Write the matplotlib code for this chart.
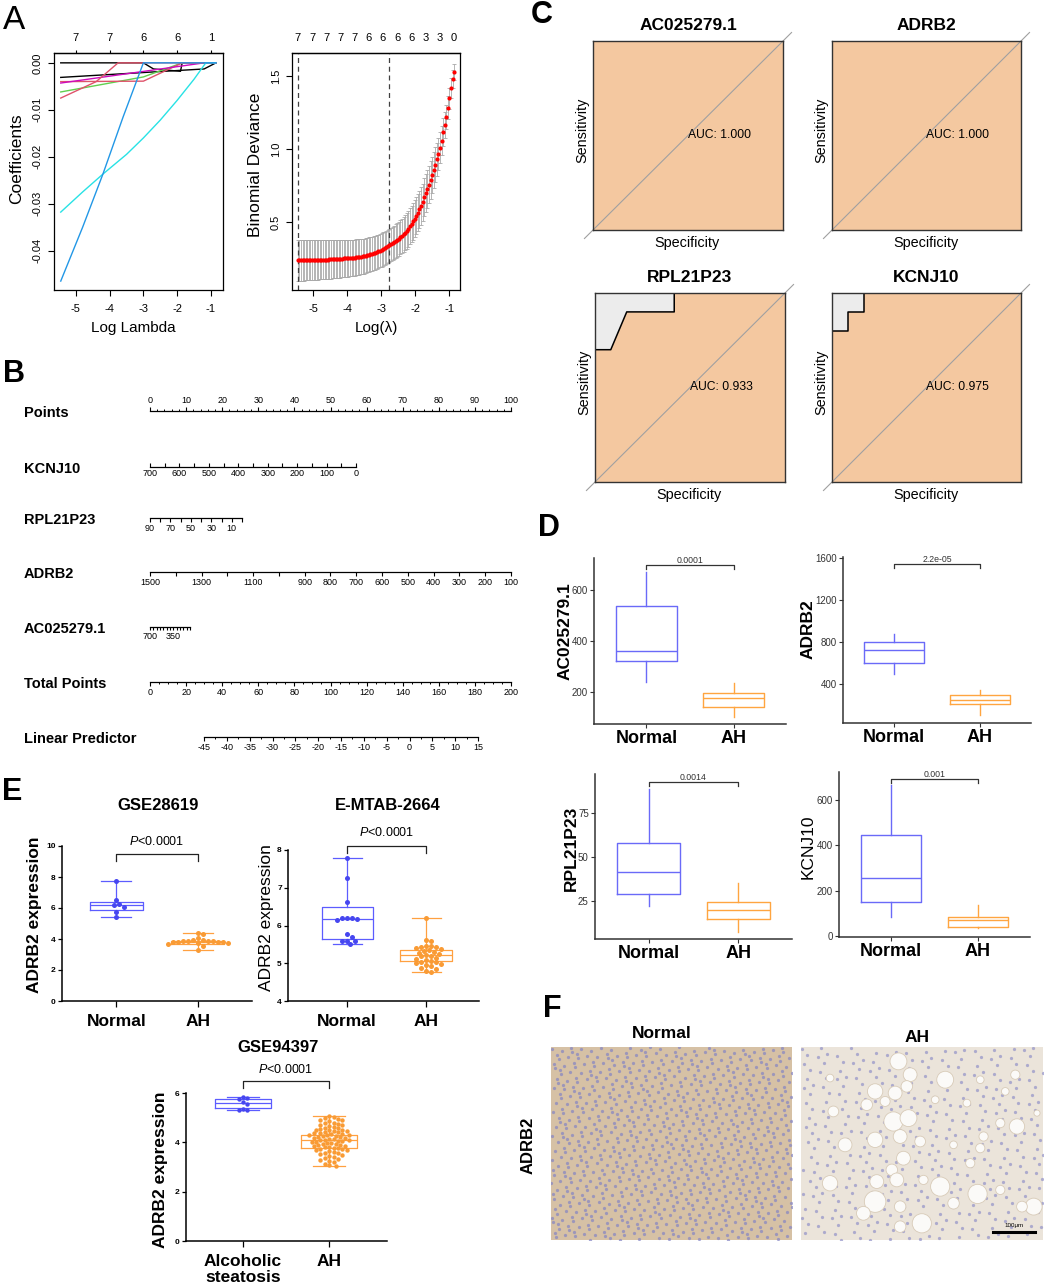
import numpy as np
import matplotlib
matplotlib.use("Agg")
import matplotlib.pyplot as plt
from matplotlib.patches import Circle

plt.rcParams['font.family'] = ['Liberation Sans', 'DejaVu Sans']
plt.rcParams['axes.unicode_minus'] = False
plt.rcParams['mathtext.fontset'] = 'custom'
plt.rcParams['mathtext.it'] = 'Liberation Sans:italic'
plt.rcParams['mathtext.rm'] = 'Liberation Sans'

# ---------------- A: lasso coefficient paths
coef_paths = [
    ('#000000', [-5.45, -3.0, -2.7, -1.9, -1.85, -0.85], [0.0, 0.0, -0.0013, -0.0018, 0.0, 0.0]),
    ('#000000', [-5.45, -1.2, -0.85], [-0.0031, -0.0013, 0.0]),
    ('#61D04F', [-5.45, -3.0, -1.85, -0.85], [-0.0062, -0.0030, 0.0, 0.0]),
    ('#DF536B', [-5.45, -3.0, -1.85, -0.85], [-0.0040, -0.0039, 0.0, 0.0]),
    ('#CD0BBC', [-5.45, -1.2, -0.85], [-0.0043, 0.0, 0.0]),
    ('#DF536B', [-5.45, -4.4, -3.75, -0.85], [-0.0075, -0.0040, 0.0, 0.0]),
    ('#28E2E5', [-5.45, -4.8, -4.2, -3.5, -3.0, -2.5, -2.0, -1.5, -1.15, -0.85],
     [-0.0318, -0.0275, -0.0237, -0.0195, -0.0160, -0.0122, -0.0080, -0.0035, 0.0, 0.0]),
    ('#2297E6', [-5.45, -4.8, -4.2, -3.6, -3.0, -0.85], [-0.0465, -0.0350, -0.0237, -0.0115, 0.0, 0.0]),
]
coef_top_labels = ['7', '7', '6', '6', '1']

# cross-validation curve (100 lambdas)
cv_loglam = np.linspace(-5.45, -0.85, 100)
cv_dev = [0.238, 0.238, 0.238, 0.238, 0.239, 0.239, 0.239, 0.239, 0.240, 0.240,
          0.240, 0.241, 0.241, 0.241, 0.242, 0.242, 0.243, 0.243, 0.244, 0.244,
          0.245, 0.245, 0.246, 0.246, 0.247, 0.248, 0.248, 0.249, 0.250, 0.251,
          0.251, 0.252, 0.253, 0.254, 0.255, 0.256, 0.257, 0.259, 0.260, 0.262,
          0.264, 0.266, 0.268, 0.271, 0.274, 0.277, 0.280, 0.283, 0.287, 0.291,
          0.295, 0.300, 0.305, 0.310, 0.316, 0.322, 0.328, 0.334, 0.341, 0.347,
          0.354, 0.362, 0.370, 0.378, 0.387, 0.396, 0.406, 0.417, 0.428, 0.440,
          0.455, 0.471, 0.488, 0.506, 0.525, 0.545, 0.566, 0.588, 0.611, 0.635,
          0.672, 0.700, 0.728, 0.758, 0.790, 0.823, 0.858, 0.894, 0.930, 0.968,
          1.010, 1.060, 1.115, 1.165, 1.220, 1.285, 1.350, 1.420, 1.480, 1.530]
cv_se = [0.140, 0.140, 0.139, 0.139, 0.139, 0.138, 0.138, 0.138, 0.137, 0.137,
         0.137, 0.136, 0.136, 0.135, 0.135, 0.135, 0.134, 0.134, 0.133, 0.133,
         0.132, 0.132, 0.131, 0.131, 0.130, 0.130, 0.129, 0.129, 0.128, 0.128,
         0.127, 0.127, 0.126, 0.126, 0.125, 0.125, 0.124, 0.123, 0.123, 0.122,
         0.122, 0.121, 0.120, 0.120, 0.119, 0.118, 0.118, 0.117, 0.117, 0.116,
         0.116, 0.115, 0.115, 0.114, 0.114, 0.113, 0.113, 0.113, 0.113, 0.113,
         0.114, 0.114, 0.115, 0.115, 0.116, 0.117, 0.118, 0.119, 0.120, 0.121,
         0.122, 0.123, 0.124, 0.125, 0.126, 0.127, 0.128, 0.128, 0.129, 0.129,
         0.130, 0.130, 0.130, 0.129, 0.128, 0.126, 0.123, 0.120, 0.116, 0.112,
         0.107, 0.102, 0.096, 0.090, 0.084, 0.078, 0.072, 0.067, 0.062, 0.058]
cv_top_labels = ['7', '7', '7', '7', '7', '6', '6', '6', '6', '3', '3', '0']
lambda_min, lambda_1se = -5.43, -2.76

# ---------------- B: nomogram
nomo_names = ['Points', 'KCNJ10', 'RPL21P23', 'ADRB2', 'AC025279.1', 'Total Points', 'Linear Predictor']
nomo_span = [(0, 100), (700, 0), (90, 0), (1500, 100), (700, 100), (0, 200), (-45, 15)]
nomo_ticks = [list(range(0, 101, 10)), list(range(700, -1, -50)), list(range(90, -1, -10)),
              list(range(1500, 99, -100)), list(range(700, 99, -50)), list(range(0, 201, 20)),
              list(range(-45, 16, 5))]
nomo_labels = [list(range(0, 101, 10)), [700, 600, 500, 400, 300, 200, 100, 0], [90, 70, 50, 30, 10],
               [1500, 1300, 1100, 900, 800, 700, 600, 500, 400, 300, 200, 100], [700, 350],
               list(range(0, 201, 20)), list(range(-45, 16, 5))]
nomo_minor = [list(range(0, 101, 2)), [], [], [], [], list(range(0, 201, 5)), list(np.arange(-45, 15.1, 2.5))]

# ---------------- C: ROC curves
roc_genes = ['AC025279.1', 'ADRB2', 'RPL21P23', 'KCNJ10']
roc_spec = [[1, 1, 0], [1, 1, 0],
            [1, 1, 0.917, 0.833, 0.583, 0.583, 0],
            [1, 1, 0.917, 0.917, 0.833, 0.833, 0]]
roc_sens = [[0, 1, 1], [0, 1, 1],
            [0, 0.70, 0.70, 0.90, 0.90, 1, 1],
            [0, 0.80, 0.80, 0.90, 0.90, 1, 1]]
roc_auc = ['AUC: 1.000', 'AUC: 1.000', 'AUC: 0.933', 'AUC: 0.975']

# ---------------- D: training-set boxplots (whislo, q1, med, q3, whishi)
d_genes = ['AC025279.1', 'ADRB2', 'RPL21P23', 'KCNJ10']
d_groups = ['Normal', 'AH']
d_normal = [(239, 322, 361, 537, 670), (495, 599, 722, 798, 874), (22.1, 29.0, 41.6, 58.2, 89.0), (84, 152, 257, 446, 666)]
d_ah = [(102, 141, 176, 196, 235), (106, 210, 248, 296, 343), (7.3, 14.7, 19.9, 24.4, 35.3), (35, 40, 70, 84, 136)]
d_pvals = ['0.0001', '2.2e-05', '0.0014', '0.001']
d_yticks = [[200, 400, 600], [400, 800, 1200, 1600], [25, 50, 75], [0, 200, 400, 600]]

# ---------------- E: validation cohorts
e_titles = ['GSE28619', 'E-MTAB-2664', 'GSE94397']
e_groups = [['Normal', 'AH'], ['Normal', 'AH'], ['Alcoholic\nsteatosis', 'AH']]
e1_ctrl = [7.72, 6.50, 6.25, 6.20, 6.08, 5.75, 5.42]
e1_ah = [4.40, 4.30, 4.05, 3.95, 3.92, 3.90, 3.88, 3.86, 3.84, 3.82, 3.80, 3.80, 3.78, 3.75, 3.72, 3.68, 3.55, 3.27]
e2_ctrl = [7.78, 7.25, 6.63, 6.20, 6.20, 6.20, 6.18, 6.15, 5.77, 5.70, 5.60, 5.60, 5.60, 5.50]
e2_ah = [6.20, 5.62, 5.60, 5.45, 5.45, 5.44, 5.42, 5.40, 5.38, 5.35, 5.32, 5.30, 5.28, 5.25, 5.22, 5.20,
         5.18, 5.15, 5.12, 5.08, 5.05, 5.04, 5.02, 5.00, 4.98, 4.95, 4.92, 4.88, 4.85, 4.80, 4.78]
e3_ctrl = [5.82, 5.80, 5.76, 5.62, 5.55, 5.36, 5.33, 5.30]
e3_ah = [5.06, 5.02, 4.98, 4.95, 4.92, 4.90, 4.85, 4.80, 4.78, 4.75, 4.72, 4.70, 4.66, 4.63, 4.60, 4.58,
         4.55, 4.52, 4.50, 4.48, 4.46, 4.44, 4.42, 4.40, 4.38, 4.36, 4.34, 4.32, 4.30, 4.29, 4.28, 4.26,
         4.24, 4.22, 4.20, 4.18, 4.16, 4.14, 4.12, 4.10, 4.09, 4.08, 4.06, 4.04, 4.02, 4.00, 3.98, 3.96,
         3.94, 3.92, 3.90, 3.88, 3.86, 3.84, 3.82, 3.80, 3.78, 3.76, 3.74, 3.72, 3.70, 3.67, 3.64, 3.61,
         3.58, 3.55, 3.52, 3.49, 3.46, 3.42, 3.38, 3.34, 3.30, 3.25, 3.20, 3.14, 3.08, 3.04]
e_points = [[e1_ctrl, e1_ah], [e2_ctrl, e2_ah], [e3_ctrl, e3_ah]]
e_box = [[(5.42, 5.90, 6.19, 6.40, 7.74), (3.26, 3.70, 3.81, 3.88, 4.39)],
         [(5.50, 5.63, 6.16, 6.50, 7.78), (4.78, 5.05, 5.23, 5.36, 6.20)],
         [(5.31, 5.39, 5.59, 5.76, 5.84), (3.04, 3.76, 4.08, 4.29, 5.06)]]
e_ylim = [(0, 10), (4, 8), (0, 6)]
e_yticks = [[0, 2, 4, 6, 8, 10], [4, 5, 6, 7, 8], [0, 2, 4, 6]]

# ---------------- F: IHC fat vacuoles in AH section (image px: x, y, r)
vacuoles = [(292, 43, 22), (327, 83, 18), (432, 98, 22), (222, 133, 20), (282, 138, 18), (317, 118, 15),
            (197, 173, 15), (252, 163, 13), (277, 223, 25), (322, 213, 22), (222, 278, 20), (132, 293, 18),
            (297, 268, 18), (357, 283, 14), (307, 333, 18), (272, 368, 15), (227, 403, 18), (287, 398, 18),
            (417, 418, 25), (529, 440, 25), (367, 398, 12), (87, 408, 20), (222, 463, 28), (187, 498, 18),
            (297, 478, 15), (362, 528, 25), (297, 538, 15), (457, 468, 15), (647, 238, 20), (597, 228, 12),
            (547, 268, 12), (697, 478, 22), (662, 478, 14), (597, 428, 12), (642, 83, 12), (537, 98, 10),
            (87, 93, 10), (497, 168, 10), (402, 158, 10), (507, 348, 12), (537, 303, 12), (457, 293, 10),
            (612, 133, 10), (97, 193, 14), (707, 198, 8)]

W, H = 1045, 1288
fig = plt.figure(figsize=(W / 100, H / 100), dpi=100)


def box(x0, y0, x1, y1):
    return fig.add_axes([x0 / W, 1 - y1 / H, (x1 - x0) / W, (y1 - y0) / H])


def ftext(x, y, s, **kw):
    kw.setdefault('ha', 'center')
    kw.setdefault('va', 'center')
    return fig.text(x / W, 1 - y / H, s, **kw)


# ======== A left
ax = box(54, 53, 223, 290)
for col, xs, ys in coef_paths:
    ax.plot(xs, ys, color=col, lw=1.0)
ax.set_xlim(-5.65, -0.64)
ax.set_ylim(-0.0484, 0.0021)
ax.set_xticks([-5, -4, -3, -2, -1])
ax.set_yticks([0, -0.01, -0.02, -0.03, -0.04])
ax.set_yticklabels(['0.00', '-0.01', '-0.02', '-0.03', '-0.04'])
ax.tick_params(length=4, width=0.8, labelsize=8, pad=6)
ax.tick_params(axis='y', labelrotation=90, pad=4)
for l in ax.get_yticklabels():
    l.set_va('center')
top = ax.secondary_xaxis('top')
top.set_xticks([-5, -4, -3, -2, -1], labels=coef_top_labels)
top.tick_params(length=2, width=0.8, labelsize=8, pad=5)
for s in list(ax.spines.values()) + [top.spines['top']]:
    s.set_linewidth(0.9)
ftext(17, 159, 'Coefficients', rotation=90, fontsize=12.5)
ftext(133, 328, 'Log Lambda', fontsize=11)

# ======== A right
ax = box(292, 53, 460, 290)
ax.errorbar(cv_loglam, cv_dev, yerr=cv_se, fmt='none', ecolor='#a8a8a8', elinewidth=0.6, capsize=1.3, capthick=0.6)
ax.scatter(cv_loglam, cv_dev, s=9, color='#ff0000', zorder=3, lw=0)
ax.axvline(lambda_min, color='#404040', ls=(0, (4, 3)), lw=0.9)
ax.axvline(lambda_1se, color='#404040', ls=(0, (4, 3)), lw=0.9)
ax.set_xlim(-5.62, -0.68)
ax.set_ylim(0.035, 1.66)
ax.set_xticks([-5, -4, -3, -2, -1])
ax.set_yticks([0.5, 1.0, 1.5])
ax.tick_params(length=4, width=0.8, labelsize=8, pad=6)
ax.tick_params(axis='y', labelrotation=90, pad=4)
for l in ax.get_yticklabels():
    l.set_va('center')
top = ax.secondary_xaxis('top')
top.set_xticks(np.linspace(-5.45, -0.86, 12), labels=cv_top_labels)
top.tick_params(length=0, labelsize=8, pad=7)
for s in list(ax.spines.values()) + [top.spines['top']]:
    s.set_linewidth(0.9)
ftext(255, 165, 'Binomial Deviance', rotation=90, fontsize=12.5)
ftext(376, 328, 'Log(λ)', fontsize=11)

# ======== B nomogram
nomo_px = [(150, 511), (150, 356), (150, 242), (150, 511), (150, 190), (150, 511), (204, 478)]
nomo_y = [411, 467, 518, 572, 627, 682, 737]
for i, name in enumerate(nomo_names):
    x0, x1 = nomo_px[i]
    yl = nomo_y[i]
    ax = box(x0, yl - 10, x1, yl + 10)
    ax.patch.set_visible(False)
    ax.set_xlim(*nomo_span[i])
    ax.set_ylim(-1, 1)
    ax.set_yticks([])
    for s in ax.spines.values():
        s.set_visible(False)
    side = 'top' if i == 0 else 'bottom'
    sp = ax.spines[side]
    sp.set_visible(True)
    sp.set_position(('data', 0))
    sp.set_linewidth(0.9)
    ax.xaxis.set_ticks_position(side)
    ticks = nomo_ticks[i]
    ax.set_xticks(ticks)
    ax.set_xticklabels([str(t) if t in nomo_labels[i] else '' for t in ticks])
    if nomo_minor[i]:
        ax.set_xticks(nomo_minor[i], minor=True)
    direction = 'in' if name == 'KCNJ10' else 'out'
    tl = 2 if name == 'AC025279.1' else 3
    ax.tick_params(axis='x', which='major', direction=direction, length=tl, width=0.8, pad=1.5, labelsize=6.5)
    ax.tick_params(axis='x', which='minor', direction=direction, length=1.5, width=0.7)
    ftext(24, yl + 2, name, ha='left', fontsize=10.5, fontweight='bold')

# ======== C ROC
c_rects = [(593, 41, 783, 230), (832, 41, 1021, 230), (595, 293, 785, 482), (832, 293, 1021, 482)]
for i, g in enumerate(roc_genes):
    x0, y0, x1, y1 = c_rects[i]
    ax = box(x0, y0, x1, y1)
    ax.set_facecolor('#ececec')
    ax.fill(roc_spec[i] + [0], roc_sens[i] + [0], color='#f4c8a0', lw=0)
    ax.plot(roc_spec[i], roc_sens[i], color='black', lw=1.1)
    ext = 0.045
    ax.plot([1 + ext, -ext], [-ext, 1 + ext], color='#a0a0a0', lw=0.8, clip_on=False)
    ax.set_xlim(1, 0)
    ax.set_ylim(0, 1)
    ax.set_xticks([])
    ax.set_yticks([])
    for s in ax.spines.values():
        s.set_color('#333333')
        s.set_linewidth(1.0)
    ax.text(0.5, 0.5, roc_auc[i], ha='left', va='center', fontsize=8.7)
    xc = (x0 + x1) / 2
    ftext(xc, y0 - 15, g, fontsize=12.5, fontweight='bold')
    ftext(x0 - 11, y0 + 89, 'Sensitivity', rotation=90, fontsize=10.4)
    ftext(xc - 1, y1 + 13, 'Specificity', fontsize=10.4)

# ======== D boxplots
d_rects = [(594, 558, 786, 724), (843, 557, 1031, 723), (595, 774, 792, 939), (839, 772, 1030, 937)]
d_ylim = [(75, 725), (30, 1605), (3.3, 97.3), (-4, 723)]
d_bracket = [(682, 698), (1505, 1543), (90.4, 92.7), (673, 692)]
d_ylab_pos = [(565, 631), (808, 629), (571, 848), (808, 847)]
d_cols = ['#6a6af8', '#ffa540']
for i, g in enumerate(d_genes):
    ax = box(*d_rects[i])
    stats = []
    for st in (d_normal[i], d_ah[i]):
        stats.append(dict(whislo=st[0], q1=st[1], med=st[2], q3=st[3], whishi=st[4], fliers=[]))
    res = ax.bxp(stats, positions=[1, 2], widths=0.7, showcaps=False, showfliers=False)
    for j, c in enumerate(d_cols):
        res['boxes'][j].set(color=c, lw=1.0)
        res['medians'][j].set(color=c, lw=1.0)
        res['whiskers'][2 * j].set(color=c, lw=1.0)
        res['whiskers'][2 * j + 1].set(color=c, lw=1.0)
    b0, b1 = d_bracket[i]
    ax.plot([1, 1, 2, 2], [b0, b1, b1, b0], color='#333333', lw=0.9, clip_on=False)
    ax.text(1.5, b1, d_pvals[i], ha='center', va='bottom', fontsize=6.3, color='#333333')
    ax.set_xlim(0.4, 2.6)
    ax.set_ylim(*d_ylim[i])
    ax.set_xticks([1, 2])
    ax.set_xticklabels(d_groups, fontsize=13, fontweight='bold')
    ax.set_yticks(d_yticks[i])
    ax.tick_params(axis='y', length=3, width=0.8, pad=1.5, labelsize=7, colors='#333333')
    ax.tick_params(axis='x', length=3, width=0.8, pad=1, colors='#333333')
    for l in ax.get_xticklabels():
        l.set_color('black')
    ax.spines['top'].set_visible(False)
    ax.spines['right'].set_visible(False)
    for s in ('left', 'bottom'):
        ax.spines[s].set_color('#333333')
        ax.spines[s].set_linewidth(1.1)
    fw = 'normal' if g == 'KCNJ10' else 'bold'
    ftext(d_ylab_pos[i][0], d_ylab_pos[i][1], g, rotation=90, fontsize=12.5, fontweight=fw)


# ======== E validation
def swarm(vals, center, ppu_x, ppu_y, d):
    placed, out = [], []
    seq = [0]
    for k in range(1, 60):
        seq += [k, -k]
    for v in vals:
        yp = v * ppu_y
        for k in seq:
            xp = k * d * 0.5
            if all((xp - a) ** 2 + (yp - b) ** 2 >= (0.9 * d) ** 2 for a, b in placed):
                break
        placed.append((xp, yp))
        out.append(center + xp / ppu_x)
    return out


e_rects = [(62, 846, 252, 1001), (288, 850, 479, 1001), (186, 1093, 387, 1241)]
e_xlim = [(0.33, 2.67), (0.25, 2.67), (0.34, 2.67)]
e_bracket = [(9.03, 9.48), (7.93, 8.11), (6.21, 6.49)]
e_ptext = [10.26, 8.46, 6.94]
e_title_pos = [(158, 806), (388, 806), (278, 1047)]
e_ylab_pos = [(35, 915), (267, 918), (160, 1170)]
e_ylab_bold = [True, False, True]
e_dot = [5.0, 5.0, 4.4]
e_edge = ['#5c5cff', '#ffa040']
e_fill = ['#4646f0', '#f99b35']
for i in range(3):
    x0, y0, x1, y1 = e_rects[i]
    ax = box(x0, y0, x1, y1)
    ppu_x = (x1 - x0) / (e_xlim[i][1] - e_xlim[i][0])
    ppu_y = (y1 - y0) / (e_ylim[i][1] - e_ylim[i][0])
    stats = [dict(whislo=st[0], q1=st[1], med=st[2], q3=st[3], whishi=st[4], fliers=[]) for st in e_box[i]]
    res = ax.bxp(stats, positions=[1, 2], widths=0.65, capwidths=0.37, showfliers=False)
    for j, c in enumerate(e_edge):
        res['boxes'][j].set(color=c, lw=0.9)
        res['medians'][j].set(color=c, lw=0.9)
        for k in (2 * j, 2 * j + 1):
            res['whiskers'][k].set(color=c, lw=0.9)
            res['caps'][k].set(color=c, lw=0.9)
        xs = swarm(e_points[i][j], j + 1, ppu_x, ppu_y, e_dot[i])
        ax.scatter(xs, e_points[i][j], s=(e_dot[i] * 0.72) ** 2, color=e_fill[j], lw=0, zorder=3)
    b0, b1 = e_bracket[i]
    ax.plot([1, 1, 2, 2], [b0, b1, b1, b0], color='#222222', lw=0.9, clip_on=False)
    ax.text(1.5, e_ptext[i], '$P$<0.0001', ha='center', va='center', fontsize=9)
    ax.set_xlim(*e_xlim[i])
    ax.set_ylim(*e_ylim[i])
    ax.set_xticks([1, 2])
    ax.set_xticklabels(e_groups[i], fontsize=12.5, fontweight='bold', linespacing=1.15)
    ax.set_yticks(e_yticks[i])
    ax.tick_params(axis='y', length=3, width=0.9, pad=1.5, labelsize=6)
    ax.tick_params(axis='x', length=4, width=0.9, pad=5)
    for l in ax.get_yticklabels():
        l.set_fontweight('bold')
    ax.spines['top'].set_visible(False)
    ax.spines['right'].set_visible(False)
    for s in ('left', 'bottom'):
        ax.spines[s].set_linewidth(1.1)
    ftext(*e_title_pos[i], e_titles[i], fontsize=12, fontweight='bold')
    ftext(*e_ylab_pos[i], 'ADRB2 expression', rotation=90, fontsize=12.5,
          fontweight='bold' if e_ylab_bold[i] else 'normal')


# ======== F IHC (stylised tissue sections)
def nuclei(ax, n, w, h, color, size, alpha):
    # evenly spread, deterministic nucleus texture (R2 low-discrepancy sequence)
    k = np.arange(n)
    ax.scatter((0.5 + k * 0.7548776662) % 1 * w, (0.5 + k * 0.5698402910) % 1 * h,
               s=size, color=color, lw=0, alpha=alpha, zorder=1)


ax = box(551, 1047, 792, 1240)
ax.set_facecolor('#d6c1a5')
ax.set_xlim(0, 725)
ax.set_ylim(578, 0)
nuclei(ax, 900, 725, 578, '#8484c4', 5.5, 0.7)
ax.set_xticks([])
ax.set_yticks([])
for s in ax.spines.values():
    s.set_visible(False)

ax = box(801, 1047, 1043, 1240)
ax.set_facecolor('#ebe4da')
ax.set_xlim(0, 725)
ax.set_ylim(578, 0)
nuclei(ax, 420, 725, 578, '#9292c8', 5.5, 0.7)
for vx, vy, vr in vacuoles:
    ax.add_patch(Circle((vx, vy), vr * 1.15, facecolor='#fbfaf8', edgecolor='#d8cbb8', lw=0.6, zorder=2))
ax.plot([574, 701], [553, 553], color='black', lw=2.2, zorder=3)
ax.text(637, 541, '100μm', ha='center', va='bottom', fontsize=4.5, zorder=3)
ax.set_xticks([])
ax.set_yticks([])
for s in ax.spines.values():
    s.set_visible(False)
ftext(662, 1034, 'Normal', fontsize=12.5, fontweight='bold')
ftext(917, 1037, 'AH', fontsize=12.5, fontweight='bold')
ftext(528, 1145, 'ADRB2', rotation=90, fontsize=12, fontweight='bold')

# ======== panel letters
ftext(3, 5, 'A', ha='left', va='top', fontsize=24)
ftext(3, 359, 'B', ha='left', va='top', fontsize=22, fontweight='bold')
ftext(531, 0, 'C', ha='left', va='top', fontsize=22, fontweight='bold')
ftext(538, 513, 'D', ha='left', va='top', fontsize=22, fontweight='bold')
ftext(2, 777, 'E', ha='left', va='top', fontsize=22, fontweight='bold')
ftext(543, 994, 'F', ha='left', va='top', fontsize=22, fontweight='bold')

fig.savefig('out.png', dpi=100)
